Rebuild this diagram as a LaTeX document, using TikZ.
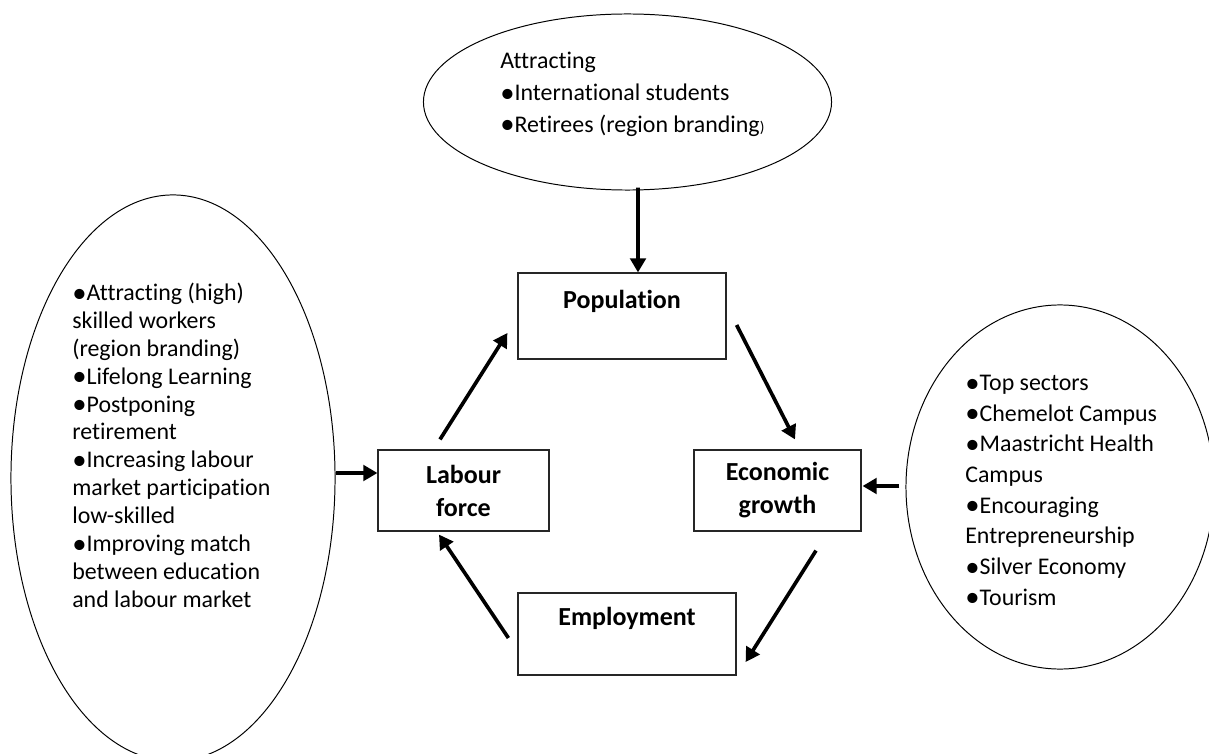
\documentclass[tikz,border=0pt]{standalone}
\usepackage{graphicx}
\usepackage{fontspec}
\setmainfont{Carlito}[Ligatures=NoCommon]
\usetikzlibrary{arrows.meta, shapes.geometric, calc}
% list bullet, a little larger than the font's own
\newcommand{\itm}{\makebox[0.6em][l]{\raisebox{-0.07em}{\scalebox{1.2}{\textbullet}}}}

\begin{document}
\begin{tikzpicture}[
    % one unit = one pixel of the 1209 x 754 page, y running down
    x=0.025cm, y=-0.025cm,
    % Core box styling for the cycle
    base/.style={
        draw=black!85,
        line width=0.8pt,
        inner sep=0pt,
        align=center,
        font=\fontsize{18.5}{23.5}\selectfont\bfseries
    },
    policy/.style={ellipse, draw, line width=0.7pt, inner sep=0pt},
    % Typography helpers
    txt_node/.style={anchor=north west, inner sep=0pt, align=left},
    arrow_line/.style={->, line width=2.6pt},
    >={Triangle[length=10pt, width=11pt]}
]
    \clip (0,0) rectangle (1209,754);

    % ==========================================
    % 1. CYCLE BOXES
    % ==========================================
    \node[base, minimum width=5.2cm, text height=0.88cm, text depth=1.27cm] (pop) at (622,316) {Population};
    \node[base, minimum width=4.275cm, minimum height=2.025cm] (lab) at (463.5,490.5) {Labour\\force};
    \node[base, minimum width=4.175cm, minimum height=2.025cm] (eco) at (777.5,490.5) {Economic\\growth};
    \node[base, minimum width=5.45cm, text height=0.8cm, text depth=1.25cm] (emp) at (627,634) {Employment};

    % ==========================================
    % 2. POLICY ELLIPSES
    % ==========================================
    \node[policy, minimum width=10.2cm, minimum height=4.4cm] (attract) at (627.5,102) {};
    \node[txt_node, font=\fontsize{17}{22.5}\selectfont] (t_attract) at (500,52)
        {Attracting\\\itm International students\\\itm Retirees (region branding{\fontsize{11}{11}\selectfont)}};

    \node[policy, minimum width=8.1cm, minimum height=14.15cm] (labpol) at (173,478) {};
    \node[txt_node, font=\fontsize{17}{19.8}\selectfont] (t_labpol) at (72,283)
        {\itm Attracting (high)\\skilled workers\\(region branding)\\\itm Lifelong Learning\\\itm Postponing\\retirement\\\itm Increasing labour\\market participation\\low-skilled\\\itm Improving match\\between education\\and labour market};

    \node[policy, minimum width=7.7cm, minimum height=9.1cm] (ecopol) at (1060,487) {};
    \node[txt_node, font=\fontsize{17}{21.8}\selectfont] (t_ecopol) at (965,375)
        {\itm Top sectors\\\itm Chemelot Campus\\\itm Maastricht Health\\Campus\\\itm Encouraging\\Entrepreneurship\\\itm Silver Economy\\\itm Tourism};

    % Cycle connections
    \draw[arrow_line] ($(lab.north)+(-23.5,-10)$) -- ($(pop.west)+(-10,17)$);
    \draw[arrow_line] ($(pop.east)+(10,9)$) -- ($(eco.north)+(17.5,-10)$);
    \draw[arrow_line] ($(eco.south)+(38.5,19)$) -- ($(emp.east)+(9,28)$);
    \draw[arrow_line] ($(emp.west)+(-9,4)$) -- ($(lab.south)+(-24.5,3)$);

    % Policy inputs
    \draw[arrow_line] ($(attract.south)+(10.5,-3)$) -- ($(pop.north)+(16,0)$);
    \draw[arrow_line] ($(labpol.east)+(0,-5)$) -- ($(lab.west)+(0,-17.5)$);
    \draw[arrow_line] ($(ecopol.west)+(-6,-1)$) -- ($(eco.east)+(1,-4.5)$);

\end{tikzpicture}
\end{document}
